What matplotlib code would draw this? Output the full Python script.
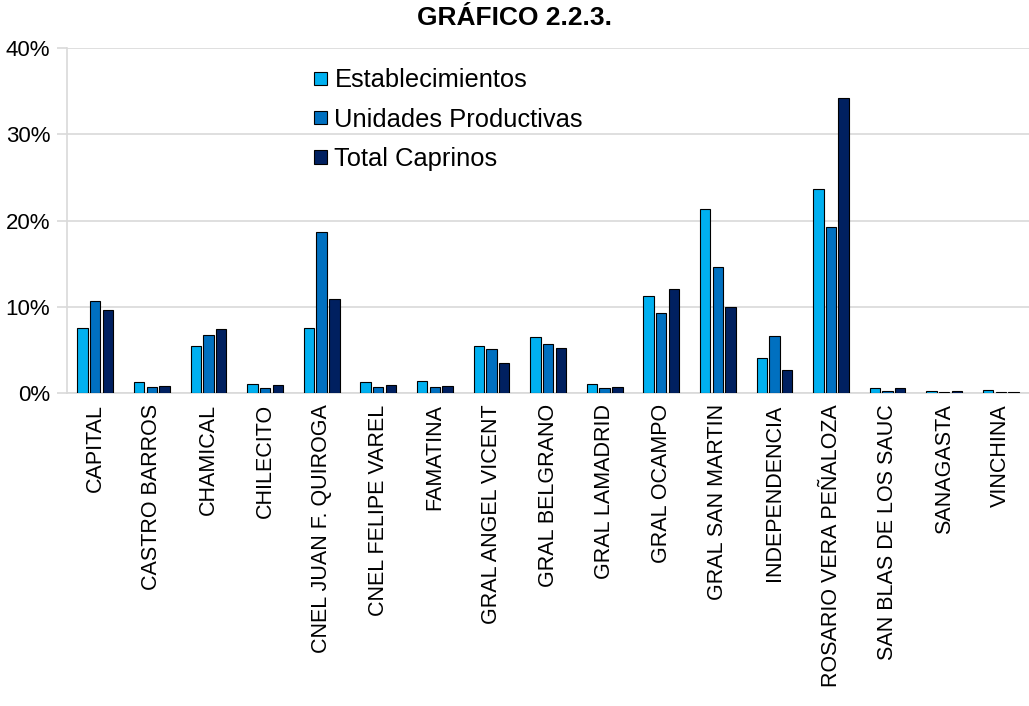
import numpy as np
import matplotlib.pyplot as plt
from matplotlib.ticker import PercentFormatter

plt.rcParams['font.family'] = ['Liberation Sans', 'DejaVu Sans']

departamentos = ['CAPITAL', 'CASTRO BARROS', 'CHAMICAL', 'CHILECITO',
                 'CNEL JUAN F. QUIROGA', 'CNEL FELIPE VAREL', 'FAMATINA',
                 'GRAL ANGEL VICENT', 'GRAL BELGRANO', 'GRAL LAMADRID',
                 'GRAL OCAMPO', 'GRAL SAN MARTIN', 'INDEPENDENCIA',
                 'ROSARIO VERA PEÑALOZA', 'SAN BLAS DE LOS SAUC',
                 'SANAGASTA', 'VINCHINA']

# porcentajes por departamento
establecimientos = [7.6, 1.3, 5.5, 1.1, 7.6, 1.25, 1.4, 5.5, 6.5, 1.05,
                    11.3, 21.4, 4.05, 23.7, 0.55, 0.28, 0.4]
unidades = [10.7, 0.7, 6.75, 0.6, 18.7, 0.7, 0.75, 5.1, 5.65, 0.57,
            9.25, 14.65, 6.65, 19.3, 0.3, 0.2, 0.2]
caprinos = [9.65, 0.8, 7.4, 0.95, 10.9, 0.95, 0.87, 3.5, 5.2, 0.68,
            12.05, 9.95, 2.75, 34.2, 0.55, 0.23, 0.2]

series = [('Establecimientos', establecimientos, '#00B0F0'),
          ('Unidades Productivas', unidades, '#0070C0'),
          ('Total Caprinos', caprinos, '#002060')]

fig = plt.figure(figsize=(10.29, 7.06), dpi=100)
ax = fig.add_axes([0.0651, 0.443, 0.935, 0.489])

x = np.arange(len(departamentos))
w = 0.184
step = 0.224
for i, (name, vals, col) in enumerate(series):
    ax.bar(x + (i - 1) * step, vals, width=w, color=col, label=name,
           edgecolor='black', linewidth=0.8, zorder=3)

ax.set_xlim(-0.5, len(departamentos) - 0.5)
ax.set_ylim(0, 40)
ax.set_yticks([0, 10, 20, 30, 40])
ax.yaxis.set_major_formatter(PercentFormatter(decimals=0))
ax.grid(axis='y', color='#D9D9D9', linewidth=1.2, zorder=0)

ax.set_xticks(x)
ax.set_xticklabels(departamentos, rotation=90, fontsize=15.5)
ax.tick_params(axis='x', length=0, pad=8)
ax.tick_params(axis='y', labelsize=16, length=7, color='#D9D9D9', width=1.2, pad=5)

for s in ['top', 'right']:
    ax.spines[s].set_visible(False)
for s in ['left', 'bottom']:
    ax.spines[s].set_color('#D9D9D9')
    ax.spines[s].set_linewidth(1.2)

# cuadrados en la leyenda
ax.legend(loc='upper left', bbox_to_anchor=(0.2355, 1.0), frameon=False,
          fontsize=18.4, handlelength=0.52, handleheight=0.42,
          handletextpad=0.28, labelspacing=0.6, borderaxespad=0.4)

fig.text(0.5, 0.975, 'GRÁFICO 2.2.3.', ha='center', va='center',
         fontsize=19, fontweight='bold')

fig.savefig('out.png', dpi=100)
